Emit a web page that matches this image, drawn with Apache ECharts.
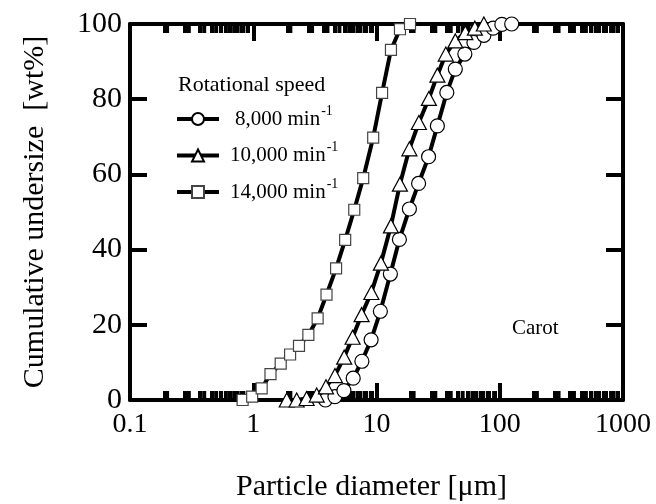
<!DOCTYPE html>
<html>
<head>
<meta charset="utf-8">
<script src="https://cdn.jsdelivr.net/npm/echarts@6/dist/echarts.min.js"></script>
<style>html,body{margin:0;padding:0;background:#fff;}#c{width:656px;height:504px;background:#fff;}</style>
</head>
<body>
<div id="c"></div>
<script>
// ---- data ----
const seriesNames = ['8,000 min-1', '10,000 min-1', '14,000 min-1'];

const dia8000 = [3.85, 4.60, 5.44, 6.47, 7.61, 9.04, 10.75, 12.96, 15.34, 18.49, 21.95, 26.46, 31.18, 37.2, 43.6, 52.1, 61.7, 74.4, 88.4, 104, 125];
const cum8000 = [0, 0.9, 2.5, 5.8, 10.3, 16.0, 23.6, 33.5, 42.7, 50.8, 57.6, 64.7, 72.9, 81.8, 88.0, 92.0, 95.1, 97.0, 98.9, 99.9, 100];

const dia10000 = [1.87, 2.25, 2.71, 3.27, 3.89, 4.60, 5.47, 6.40, 7.57, 9.09, 10.86, 13.09, 15.49, 18.49, 22.07, 26.6, 31.2, 36.5, 43.6, 52.6, 62.8, 74.3];
const cum10000 = [0, 0, 0.4, 1.3, 3.5, 6.5, 11.4, 16.7, 22.7, 28.6, 36.4, 46.3, 57.4, 66.8, 73.8, 80.2, 86.4, 92.0, 95.5, 97.7, 98.9, 100];

const dia14000 = [0.82, 0.98, 1.17, 1.38, 1.67, 1.99, 2.35, 2.80, 3.33, 3.93, 4.70, 5.57, 6.6, 7.8, 9.4, 11.1, 13.1, 15.5, 18.7];
const cum14000 = [0, 0.9, 3.1, 6.9, 9.7, 12.1, 14.4, 17.3, 21.7, 28.0, 35.0, 42.6, 50.6, 59.0, 69.8, 81.7, 93.1, 98.6, 100];

const xTickValues = [0.1, 1, 10, 100, 1000];
const xTickLabels = ['0.1', '1', '10', '100', '1000'];
const minorSteps = [2, 3, 4, 5, 6, 7, 8, 9];

// ---- chart ----
const FONT = 'Liberation Serif';
const pair = (xs, ys) => xs.map((x, i) => [x, ys[i]]);
const chart = echarts.init(document.getElementById('c'));

// minor log ticks (2..9 in each decade) drawn through the x scale
const minorTickValues = [];
xTickValues.slice(0, -1).forEach(d => minorSteps.forEach(s => minorTickValues.push(+(d * s).toPrecision(6))));

const tickCommon = {
  axisLine: {show: true, onZero: false, lineStyle: {color: '#000', width: 4}},
  axisTick: {show: true, inside: true, length: 17, lineStyle: {color: '#000', width: 4}},
  splitLine: {show: false},
};

function xLabel(v) {
  const idx = xTickValues.findIndex(t => Math.abs(Math.log10(t) - Math.log10(v)) < 1e-6);
  return idx >= 0 ? xTickLabels[idx] : '';
}

const xBase = {
  type: 'log', logBase: 10, min: 0.1, max: 1000,
  ...tickCommon,
  minorTick: {show: true, splitNumber: 10, length: 9, lineStyle: {color: '#000', width: 4}},
  minorSplitLine: {show: false},
};

const lineSeries = (name, data, symbol, size, border) => ({
  name, type: 'line', data, symbol, symbolSize: size, clip: false,
  showAllSymbol: true,
  lineStyle: {color: '#000', width: 4},
  itemStyle: {color: '#fff', borderColor: border, borderWidth: 1.2},
});

const minorTickSeries = {
  type: 'custom', silent: true, clip: false,
  data: minorTickValues.map(v => [v, 0]),
  encode: {x: 0, y: 1},
  renderItem: (params, api) => {
    const v = api.value(0);
    const pb = api.coord([v, 0]);
    const pt = api.coord([v, 100]);
    const st = {stroke: '#000', lineWidth: 4};
    return {type: 'group', children: [
      {type: 'line', shape: {x1: pb[0], y1: pb[1], x2: pb[0], y2: pb[1] - 9}, style: st},
      {type: 'line', shape: {x1: pt[0], y1: pt[1], x2: pt[0], y2: pt[1] + 9}, style: st},
    ]};
  },
};

chart.setOption({
  animation: false,
  grid: {left: 130, top: 24, width: 493, height: 376, containLabel: false, outerBoundsMode: 'none'},
  title: [
    {text: 'Rotational speed', left: 178, top: 74, padding: 0,
     textStyle: {fontFamily: FONT, fontSize: 22, fontWeight: 'normal', color: '#000'}},
    {text: 'Carot', left: 512, top: 318, padding: 0,
     textStyle: {fontFamily: FONT, fontSize: 21, fontWeight: 'normal', color: '#000'}},
  ],
  legend: {
    orient: 'vertical', left: 175, top: 104, padding: 0, itemWidth: 42, itemHeight: 15, itemGap: 11,
    data: seriesNames,
    lineStyle: {width: 4, color: '#000'},
    formatter: name => {
      const base = name.replace('-1', '').trim();
      const st = base.startsWith('8') ? 'p' : 'n';
      return '{' + st + '|' + base + '}{s|-1}';
    },
    textStyle: {
      color: '#000', fontFamily: FONT,
      rich: {
        n: {fontFamily: FONT, fontSize: 21, color: '#000', padding: [0, 0, 0, 6]},
        p: {fontFamily: FONT, fontSize: 21, color: '#000', padding: [0, 0, 0, 11]},
        s: {fontFamily: FONT, fontSize: 14, color: '#000', padding: [0, 0, 16, 1]},
      }
    },
    selectedMode: false,
  },
  xAxis: [
    {...xBase, position: 'bottom',
     axisLabel: {show: true, fontFamily: FONT, fontSize: 28, color: '#000', margin: 11, formatter: xLabel},
     name: 'Particle diameter [μm]', nameLocation: 'middle', nameGap: 72,
     nameTextStyle: {fontFamily: FONT, fontSize: 30, color: '#000', padding: [0, 10, 0, 0]}},
    {...xBase, position: 'top', axisLabel: {show: false}},
  ],
  yAxis: [
    {type: 'value', min: 0, max: 100, interval: 20, position: 'left', ...tickCommon,
     axisLabel: {fontFamily: FONT, fontSize: 30, color: '#000', margin: 8},
     name: 'Cumulative undersize  [wt%]', nameLocation: 'middle', nameGap: 80, nameRotate: 90,
     nameTextStyle: {fontFamily: FONT, fontSize: 30, color: '#000'}},
    {type: 'value', min: 0, max: 100, interval: 20, position: 'right', ...tickCommon,
     axisLabel: {show: false}},
  ],
  series: [
    minorTickSeries,
    lineSeries(seriesNames[0], pair(dia8000, cum8000), 'circle', 14, '#000'),
    lineSeries(seriesNames[1], pair(dia10000, cum10000), 'triangle', [15, 14], '#000'),
    lineSeries(seriesNames[2], pair(dia14000, cum14000), 'rect', 11, '#444'),
  ],
});
</script>
</body>
</html>
